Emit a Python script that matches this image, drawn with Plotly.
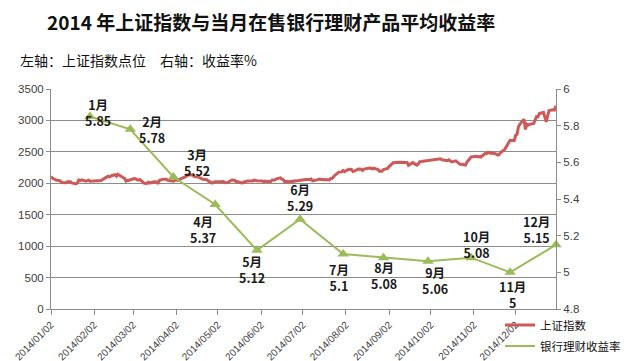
import plotly.graph_objects as go

# ---------------- data ----------------
sh_dates = [
 "01-02","01-03","01-06","01-07","01-08","01-09","01-10","01-13","01-14","01-15","01-16","01-17","01-20","01-21","01-22","01-23","01-24","01-27","01-28","01-29","01-30",
 "02-07","02-10","02-11","02-12","02-13","02-14","02-17","02-18","02-19","02-20","02-21","02-24","02-25","02-26","02-27","02-28",
 "03-03","03-04","03-05","03-06","03-07","03-10","03-11","03-12","03-13","03-14","03-17","03-18","03-19","03-20","03-21","03-24","03-25","03-26","03-27","03-28","03-31",
 "04-01","04-02","04-03","04-04","04-08","04-09","04-10","04-11","04-14","04-15","04-16","04-17","04-18","04-21","04-22","04-23","04-24","04-25","04-28","04-29","04-30",
 "05-05","05-06","05-07","05-08","05-09","05-12","05-13","05-14","05-15","05-16","05-19","05-20","05-21","05-22","05-23","05-26","05-27","05-28","05-29","05-30",
 "06-03","06-04","06-05","06-06","06-09","06-10","06-11","06-12","06-13","06-16","06-17","06-18","06-19","06-20","06-23","06-24","06-25","06-26","06-27","06-30",
 "07-01","07-02","07-03","07-04","07-07","07-08","07-09","07-10","07-11","07-14","07-15","07-16","07-17","07-18","07-21","07-22","07-23","07-24","07-25","07-28","07-29","07-30","07-31",
 "08-01","08-04","08-05","08-06","08-07","08-08","08-11","08-12","08-13","08-14","08-15","08-18","08-19","08-20","08-21","08-22","08-25","08-26","08-27","08-28","08-29",
 "09-01","09-02","09-03","09-04","09-05","09-09","09-10","09-11","09-12","09-15","09-16","09-17","09-18","09-19","09-22","09-23","09-24","09-25","09-26","09-29","09-30",
 "10-08","10-09","10-10","10-13","10-14","10-15","10-16","10-17","10-20","10-21","10-22","10-23","10-24","10-27","10-28","10-29","10-30","10-31",
 "11-03","11-04","11-05","11-06","11-07","11-10","11-11","11-12","11-13","11-14","11-17","11-18","11-19","11-20","11-21","11-24","11-25","11-26","11-27","11-28",
 "12-01","12-02","12-03","12-04","12-05","12-08","12-09","12-10","12-11","12-12","12-15","12-16","12-17","12-18","12-19","12-22","12-23","12-24","12-25","12-26","12-29","12-30","12-31",
]
sh_close = [
 2109,2083,2046,2047,2044,2028,2013,2010,2027,2023,2023,2005,1991,2008,2052,2042,2054,2033,2039,2050,2033,
 2045,2086,2104,2112,2100,2116,2135,2112,2143,2128,2114,2077,2034,2047,2045,2056,
 2075,2071,2053,2060,2058,1999,2001,1998,2019,2004,2024,2025,2022,1993,2048,2066,2067,2064,2047,2042,2033,
 2047,2059,2044,2059,2098,2105,2134,2131,2132,2105,2106,2099,2098,2065,2068,2061,2059,2037,2003,2020,2026,
 2027,2028,2010,2015,2011,2053,2051,2048,2025,2027,2005,2008,2025,2021,2035,2041,2035,2050,2041,2039,
 2038,2024,2035,2030,2029,2053,2054,2052,2071,2087,2066,2056,2024,2027,2024,2034,2026,2039,2037,2048,
 2050,2059,2063,2059,2060,2067,2039,2039,2047,2066,2067,2061,2056,2059,2054,2075,2077,2109,2127,2178,2183,2181,2202,
 2185,2223,2222,2221,2188,2194,2225,2222,2223,2205,2227,2239,2245,2241,2228,2241,2220,2193,2196,2193,2217,
 2236,2266,2289,2307,2326,2334,2333,2329,2332,2331,2286,2295,2316,2329,2290,2308,2344,2345,2348,2357,2364,
 2383,2389,2375,2366,2360,2373,2356,2341,2356,2340,2327,2302,2302,2290,2338,2373,2391,2420,
 2430,2431,2419,2426,2418,2474,2470,2494,2486,2479,2474,2456,2451,2453,2487,2533,2568,2604,2630,2683,
 2680,2764,2780,2899,2938,3020,2856,2940,2926,2938,2953,3022,3061,3058,3109,3127,3033,2977,3073,3158,3168,3166,3235,
]

wm_dates = ["2014-01-30","2014-02-28","2014-03-31","2014-04-30","2014-05-30","2014-06-30",
            "2014-07-31","2014-08-29","2014-09-30","2014-10-31","2014-11-28","2014-12-31"]
wm_labels = ["1月","2月","3月","4月","5月","6月","7月","8月","9月","10月","11月","12月"]
wm_yield = [5.85, 5.78, 5.52, 5.37, 5.12, 5.29, 5.1, 5.08, 5.06, 5.08, 5, 5.15]

x_tickvals = ["2014-%02d-02" % m for m in range(1, 13)]
x_ticktext = ["2014/%02d/02" % m for m in range(1, 13)]

title_text = "2014 年上证指数与当月在售银行理财产品平均收益率"
subtitle_text = "左轴：上证指数点位\u3000右轴：收益率%"

# label offsets (style only)
lab_dx = [8, 22, 24, -12, -5, 0, -4, 1, 7, 5, 2, -20]
lab_dy = [4, 0, 15, -25, -19, 22, -23, -18, -19, 13, -22, 15]

CJK = "Noto Sans CJK SC"
LAT = "Liberation Sans, Arial"
RED = "#CD5A58"
GREEN = "#9BBB59"
GRID = "#8C8C8C"
TICK = "#404040"

fig = go.Figure()
fig.add_trace(go.Scatter(
    x=["2014-" + d for d in sh_dates], y=sh_close, name="上证指数",
    mode="lines", line=dict(color=RED, width=3), yaxis="y", legend="legend",
    showlegend=True,
))
fig.add_trace(go.Scatter(
    x=wm_dates, y=wm_yield, name="银行理财收益率",
    mode="lines", line=dict(color=GREEN, width=2),
    yaxis="y2", legend="legend2", showlegend=True, cliponaxis=False,
))
fig.add_trace(go.Scatter(
    x=wm_dates, y=wm_yield, name="银行理财收益率",
    mode="markers", marker=dict(symbol="triangle-up", size=10, color=GREEN),
    yaxis="y2", showlegend=False, cliponaxis=False,
))

annotations = []
for d, lab, v, dx, dy in zip(wm_dates, wm_labels, wm_yield, lab_dx, lab_dy):
    annotations.append(dict(
        x=d, y=v, xref="x", yref="y2", text=f"<b>{lab}<br>{v:g}</b>",
        showarrow=False, xshift=dx, yshift=dy,
        font=dict(family=CJK, size=12.5, color="#1A1A1A"),
    ))
annotations.append(dict(
    xref="paper", yref="paper", x=(10 - 43) / 505, y=(301 - 52) / 220, xanchor="left", yanchor="middle",
    text=subtitle_text, showarrow=False, font=dict(family=CJK, size=14, color="#111111"),
))

fig.update_layout(
    width=629, height=361,
    margin=dict(l=43, r=81, t=81, b=60, autoexpand=False),
    paper_bgcolor="white", plot_bgcolor="white",
    title=dict(text="<b>" + title_text + "</b>", x=39 / 629, xanchor="left", xref="container",
               y=1 - 15 / 361, yanchor="middle", yref="container",
               font=dict(family=CJK, size=19, color="#111111")),
    xaxis=dict(type="date", range=["2014-01-02", "2014-12-31"], automargin=False,
               tickvals=x_tickvals, ticktext=x_ticktext, tickangle=-45,
               ticks="outside", ticklen=5, tickcolor=GRID,
               showline=True, linecolor=GRID, linewidth=1, showgrid=False,
               tickfont=dict(family=LAT, size=10, color=TICK)),
    yaxis=dict(range=[0, 3500], dtick=500, tick0=0, showgrid=True, gridcolor=GRID, gridwidth=1,
               showline=True, linecolor=GRID, ticks="outside", ticklen=4, tickcolor=GRID,
               automargin=False, zeroline=False, tickfont=dict(family=LAT, size=11.5, color=TICK)),
    yaxis2=dict(range=[4.8, 6], dtick=0.2, tick0=4.8, overlaying="y", side="right",
                showgrid=False, showline=True, linecolor=GRID, ticks="outside", ticklen=4,
                automargin=False, tickcolor=GRID, zeroline=False,
                tickfont=dict(family=LAT, size=11.5, color=TICK)),
    legend=dict(xref="container", yref="container", x=492 / 629, y=1 - 317 / 361,
                xanchor="left", yanchor="middle", bgcolor="rgba(0,0,0,0)",
                font=dict(family=CJK, size=11.5, color="#111111")),
    legend2=dict(xref="container", yref="container", x=492 / 629, y=1 - 338 / 361,
                 xanchor="left", yanchor="middle", bgcolor="rgba(0,0,0,0)",
                 font=dict(family=CJK, size=11.5, color="#111111")),
    annotations=annotations,
)

fig.write_html("out.html")
